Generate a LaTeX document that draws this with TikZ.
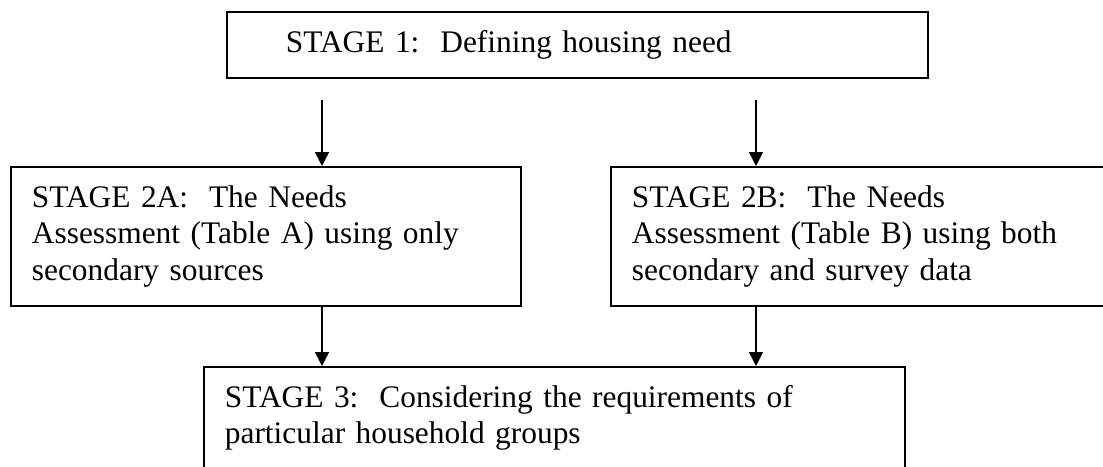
\documentclass[tikz,border=0pt]{standalone}
\usepackage{fontspec}
\setmainfont{Liberation Serif}
\usetikzlibrary{arrows.meta}

\tikzset{
  stagebox/.style={draw, line width=0.9pt, anchor=north west, align=left,
    inner ysep=7.3pt, inner xsep=10.5pt, font=\fontsize{15.7}{18.3}\selectfont,
    execute at begin node=\strut, execute at end node=\strut},
  flow/.style={line width=0.75pt, -{Triangle[length=7pt,width=7pt]}}
}

\begin{document}
\begin{tikzpicture}[x=0.5pt,y=-0.5pt]
        \useasboundingbox (0,0) rectangle (1103,466);
        \clip (0,0) rectangle (1103,466);

        \node[stagebox, inner xsep=29.5pt, text width=291.5pt] (S1) at (226,11) {STAGE 1:\ \ Defining housing need};
        \node[stagebox, text width=234pt] (S2A) at (10,166) {STAGE 2A:\ \ The Needs\\ Assessment (Table A) using only\\ secondary sources};
        \node[stagebox, text width=227pt] (S2B) at (610,166) {STAGE 2B:\ \ The Needs\\ Assessment (Table B) using both\\ secondary and survey data};
        \node[stagebox, text width=329.5pt] (S3) at (203,366) {STAGE 3:\ \ Considering the requirements of\\ particular household groups};

        \coordinate (L) at (322,100);
        \coordinate (R) at (756,100);

        \draw[flow] (L) -- (L |- S2A.north);
        \draw[flow] (R) -- (R |- S2B.north);
        \draw[flow] (L |- S2A.south) -- (L |- S3.north);
        \draw[flow] (R |- S2B.south) -- (R |- S3.north);
      \end{tikzpicture}
\end{document}
